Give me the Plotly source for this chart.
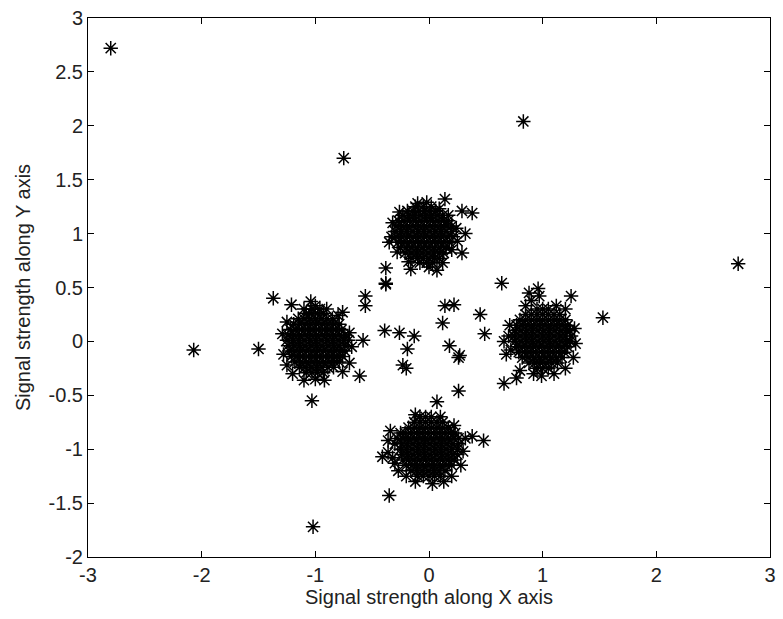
import plotly.graph_objects as go

# ---- data ----
x_ticks = [-3, -2, -1, 0, 1, 2, 3]
x_tick_text = ["-3", "-2", "-1", "0", "1", "2", "3"]
y_ticks = [-2, -1.5, -1, -0.5, 0, 0.5, 1, 1.5, 2, 2.5, 3]
y_tick_text = ["-2", "-1.5", "-1", "-0.5", "0", "0.5", "1", "1.5", "2", "2.5", "3"]

# dense cluster near (0, 1): rows of (y, [x values])
cluster_a_rows = [
    (1.25, [-0.12, -0.05, 0.02]),
    (1.21, [-0.19, -0.14, -0.09, -0.04, 0.01, 0.06]),
    (1.17, [-0.23, -0.18, -0.13, -0.08, -0.03, 0.02, 0.07, 0.12]),
    (1.12, [-0.27, -0.22, -0.17, -0.12, -0.07, -0.02, 0.03, 0.08, 0.13, 0.17]),
    (1.07, [-0.29, -0.24, -0.19, -0.14, -0.09, -0.04, 0.01, 0.06, 0.11, 0.16, 0.20]),
    (1.02, [-0.30, -0.25, -0.20, -0.15, -0.10, -0.05, 0.00, 0.05, 0.10, 0.15, 0.20]),
    (0.97, [-0.29, -0.24, -0.19, -0.14, -0.09, -0.04, 0.01, 0.06, 0.11, 0.16, 0.21]),
    (0.92, [-0.27, -0.22, -0.17, -0.12, -0.07, -0.02, 0.03, 0.08, 0.13, 0.18]),
    (0.87, [-0.25, -0.20, -0.15, -0.10, -0.05, 0.00, 0.05, 0.10, 0.15]),
    (0.82, [-0.21, -0.16, -0.11, -0.06, -0.01, 0.04, 0.09, 0.13]),
    (0.77, [-0.15, -0.10, -0.05, 0.00, 0.05, 0.09]),
    (0.73, [-0.08, -0.02, 0.03]),
]
cluster_a_edge = [(-0.33, 0.97), (-0.35, 0.92), (-0.32, 1.10), (0.24, 1.05), (0.25, 0.93),
                  (0.20, 0.85), (0.17, 1.17), (-0.02, 1.29), (-0.10, 1.28), (0.09, 1.23),
                  (-0.26, 1.20), (-0.28, 0.83), (0.12, 0.73), (-0.18, 0.74), (0.00, 0.69)]

# dense cluster near (-1, 0)
cluster_b_rows = [
    (0.30, [-1.10, -1.03, -0.96, -0.90]),
    (0.26, [-1.08, -1.03, -0.98, -0.93]),
    (0.21, [-1.15, -1.10, -1.05, -1.00, -0.95, -0.90, -0.85]),
    (0.16, [-1.19, -1.14, -1.09, -1.04, -0.99, -0.94, -0.89, -0.84, -0.79]),
    (0.11, [-1.22, -1.17, -1.12, -1.07, -1.02, -0.97, -0.92, -0.87, -0.82, -0.77]),
    (0.06, [-1.24, -1.19, -1.14, -1.09, -1.04, -0.99, -0.94, -0.89, -0.84, -0.79, -0.74]),
    (0.01, [-1.25, -1.20, -1.15, -1.10, -1.05, -1.00, -0.95, -0.90, -0.85, -0.80, -0.75, -0.71]),
    (-0.04, [-1.24, -1.19, -1.14, -1.09, -1.04, -0.99, -0.94, -0.89, -0.84, -0.79, -0.74]),
    (-0.09, [-1.23, -1.18, -1.13, -1.08, -1.03, -0.98, -0.93, -0.88, -0.83, -0.78, -0.74]),
    (-0.14, [-1.21, -1.16, -1.11, -1.06, -1.01, -0.96, -0.91, -0.86, -0.81, -0.76]),
    (-0.19, [-1.18, -1.13, -1.08, -1.03, -0.98, -0.93, -0.88, -0.83, -0.79]),
    (-0.24, [-1.14, -1.09, -1.04, -0.99, -0.94, -0.89, -0.84]),
    (-0.29, [-1.08, -1.03, -0.98, -0.93]),
]
cluster_b_edge = [(-1.00, 0.33), (-0.80, 0.24), (-1.25, 0.18), (-1.29, 0.07), (-1.28, -0.12),
                  (-1.25, -0.22), (-0.70, 0.08), (-0.68, -0.05), (-0.70, -0.20), (-0.76, -0.28),
                  (-1.20, -0.30), (-1.00, -0.35), (-0.92, -0.36), (-1.10, -0.36)]

# dense cluster near (0, -1)
cluster_c_rows = [
    (-0.70, [-0.08, -0.03, 0.02]),
    (-0.75, [-0.13, -0.08, -0.03, 0.02, 0.07, 0.12]),
    (-0.80, [-0.18, -0.13, -0.08, -0.03, 0.02, 0.07, 0.12, 0.17]),
    (-0.85, [-0.21, -0.16, -0.11, -0.06, -0.01, 0.04, 0.09, 0.14, 0.19, 0.23]),
    (-0.90, [-0.23, -0.18, -0.13, -0.08, -0.03, 0.02, 0.07, 0.12, 0.17, 0.22, 0.26]),
    (-0.95, [-0.24, -0.19, -0.14, -0.09, -0.04, 0.01, 0.06, 0.11, 0.16, 0.21, 0.26]),
    (-1.00, [-0.25, -0.20, -0.15, -0.10, -0.05, 0.00, 0.05, 0.10, 0.15, 0.20, 0.25]),
    (-1.05, [-0.24, -0.19, -0.14, -0.09, -0.04, 0.01, 0.06, 0.11, 0.16, 0.21, 0.25]),
    (-1.10, [-0.23, -0.18, -0.13, -0.08, -0.03, 0.02, 0.07, 0.12, 0.17, 0.22]),
    (-1.15, [-0.20, -0.15, -0.10, -0.05, 0.00, 0.05, 0.10, 0.15, 0.20]),
    (-1.20, [-0.16, -0.11, -0.06, -0.01, 0.04, 0.09, 0.14]),
    (-1.25, [-0.10, -0.05, 0.00, 0.05, 0.10]),
]
cluster_c_edge = [(-0.30, -0.95), (-0.32, -1.08), (-0.30, -1.13), (-0.27, -1.20), (-0.20, -1.25),
                  (-0.12, -1.30), (0.03, -1.32), (0.13, -1.30), (0.20, -1.25), (0.28, -1.15),
                  (0.30, -1.02), (0.32, -0.90), (0.38, -0.88), (-0.12, -0.68), (0.10, -0.70),
                  (0.22, -0.78), (-0.25, -0.85), (-0.28, -0.90), (-0.36, -1.03), (-0.36, -0.92)]

# dense cluster near (1, 0)
cluster_d_rows = [
    (0.30, [0.95, 1.00, 1.05]),
    (0.25, [0.85, 0.90, 0.95, 1.00, 1.05, 1.10, 1.15]),
    (0.20, [0.80, 0.85, 0.90, 0.95, 1.00, 1.05, 1.10, 1.15, 1.20]),
    (0.15, [0.77, 0.82, 0.87, 0.92, 0.97, 1.02, 1.07, 1.12, 1.17, 1.22]),
    (0.10, [0.76, 0.81, 0.86, 0.91, 0.96, 1.01, 1.06, 1.11, 1.16, 1.21, 1.24]),
    (0.05, [0.75, 0.80, 0.85, 0.90, 0.95, 1.00, 1.05, 1.10, 1.15, 1.20, 1.25]),
    (0.00, [0.76, 0.81, 0.86, 0.91, 0.96, 1.01, 1.06, 1.11, 1.16, 1.21, 1.24]),
    (-0.05, [0.77, 0.82, 0.87, 0.92, 0.97, 1.02, 1.07, 1.12, 1.17, 1.22]),
    (-0.10, [0.79, 0.84, 0.89, 0.94, 0.99, 1.04, 1.09, 1.14, 1.19]),
    (-0.15, [0.82, 0.87, 0.92, 0.97, 1.02, 1.07, 1.12, 1.17]),
    (-0.20, [0.88, 0.93, 0.98, 1.03, 1.08, 1.13]),
    (-0.25, [0.95, 1.00, 1.05]),
]
cluster_d_edge = [(0.70, 0.05), (0.72, -0.08), (0.71, 0.15), (0.85, 0.33), (0.90, 0.38),
                  (1.12, 0.33), (1.20, 0.30), (1.28, 0.12), (1.29, -0.02), (1.27, -0.15),
                  (1.20, -0.25), (1.10, -0.30), (0.92, -0.30), (0.80, -0.27), (0.97, 0.42),
                  (0.66, 0.00), (0.68, -0.12)]

# scattered points
outliers = [
    (-2.80, 2.72), (-0.75, 1.70), (0.83, 2.04), (2.72, 0.72), (-2.07, -0.08),
    (-1.02, -1.72), (-1.50, -0.07), (-1.37, 0.40), (-1.21, 0.34), (-1.04, 0.37),
    (-0.76, 0.27), (-0.56, 0.42), (-0.56, 0.33), (-0.38, 0.53), (-0.38, 0.68),
    (-0.39, 0.10), (-0.26, 0.08), (-0.13, 0.05), (-0.19, -0.07), (-0.23, -0.22),
    (-0.20, -0.25), (-0.58, 0.01), (-0.61, -0.32), (-1.03, -0.55), (0.14, 0.33),
    (0.22, 0.34), (0.12, 0.17), (0.18, -0.04), (0.27, -0.13), (0.26, -0.15),
    (0.26, -0.46), (0.07, -0.56), (0.45, 0.25), (0.49, 0.07), (0.64, 0.54),
    (0.88, 0.45), (0.96, 0.49), (1.25, 0.42), (1.53, 0.22), (0.66, -0.39),
    (0.77, -0.34), (0.99, -0.32), (0.14, 1.32), (0.29, 1.21), (0.38, 1.19),
    (0.32, 1.00), (0.29, 0.82), (-0.16, 0.67), (0.07, 0.66), (-0.38, 0.54),
    (0.48, -0.92), (-0.41, -1.07), (-0.35, -1.43), (-0.34, -0.83),
]

# ---- assemble points ----
xs, ys = [], []
for rows, edge in [(cluster_a_rows, cluster_a_edge), (cluster_b_rows, cluster_b_edge),
                   (cluster_c_rows, cluster_c_edge), (cluster_d_rows, cluster_d_edge)]:
    for yv, xlist in rows:
        for xv in xlist:
            xs.append(xv)
            ys.append(yv)
    for xv, yv in edge:
        xs.append(xv)
        ys.append(yv)
for xv, yv in outliers:
    xs.append(xv)
    ys.append(yv)

font_family = "Liberation Sans, Arial, sans-serif"
text_color = "#222222"

fig = go.Figure()
fig.add_trace(go.Scatter(
    x=xs, y=ys, mode="markers",
    marker=dict(symbol="asterisk-open", size=12, color="black",
                line=dict(color="black", width=1.5)),
    showlegend=False, hoverinfo="skip",
))

axis_common = dict(
    showline=True, linecolor="black", linewidth=1, mirror="ticks",
    ticks="inside", ticklen=6, tickwidth=1, tickcolor="black",
    showgrid=False, zeroline=False,
    tickfont=dict(family=font_family, size=20, color=text_color),
)

fig.update_layout(
    width=783, height=619,
    margin=dict(l=88, r=7, t=16, b=62),
    paper_bgcolor="white", plot_bgcolor="white",
    font=dict(family=font_family, size=20, color=text_color),
    xaxis=dict(range=[-3, 3], tickvals=x_ticks, ticktext=x_tick_text,
               title=dict(text="Signal strength along X axis", standoff=4,
                          font=dict(family=font_family, size=20, color=text_color)),
               **axis_common),
    yaxis=dict(range=[-2, 3], tickvals=y_ticks, ticktext=y_tick_text,
               title=dict(text="Signal strength along Y axis", standoff=12,
                          font=dict(family=font_family, size=20, color=text_color)),
               **axis_common),
)

fig.write_html("out.html")
